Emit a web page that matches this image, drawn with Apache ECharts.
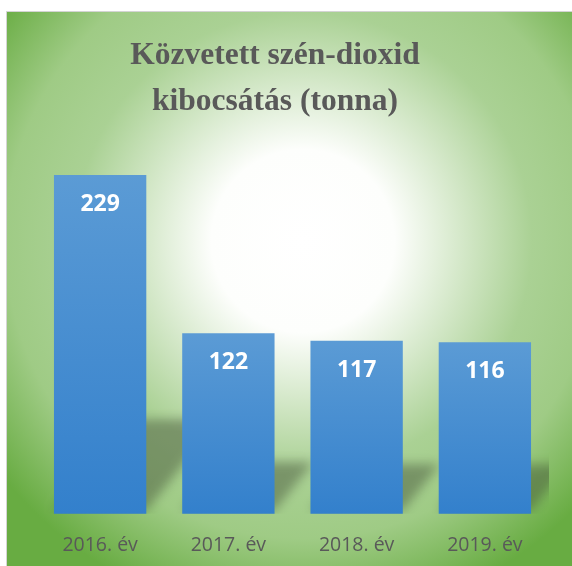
<!DOCTYPE html>
<html><head><meta charset="utf-8">
<script src="https://cdn.jsdelivr.net/npm/echarts@6/dist/echarts.min.js"></script>
<style>html,body{margin:0;padding:0;background:#fff}#c{width:572px;height:566px}</style>
</head><body><div id="c"></div>
<script>
const titleText = 'Közvetett szén-dioxid\nkibocsátás (tonna)';
const categories = ['2016. év', '2017. év', '2018. év', '2019. év'];
const values = [229, 122, 117, 116];

const BAR_RATIO = 0.72;
const OFF = 1500;
const chart = echarts.init(document.getElementById('c'), null, {renderer: 'canvas'});
chart.setOption({
  backgroundColor: '#ffffff',
  animation: false,
  graphic: [
    {
      type: 'rect', z: -10, silent: true,
      shape: {x: 6.5, y: 11.5, width: 570, height: 560},
      style: {
        fill: new echarts.graphic.RadialGradient(0.52, 0.41, 0.68, [
          {offset: 0, color: '#ffffff'},
          {offset: 0.24, color: '#fdfefc'},
          {offset: 0.6, color: '#aad194'},
          {offset: 0.78, color: '#9fcb85'},
          {offset: 1, color: '#68ac42'}
        ]),
        stroke: '#d4d4d4', lineWidth: 1
      }
    }
  ],
  title: {
    text: titleText,
    left: 270, top: 28, textAlign: 'center',
    textStyle: {fontFamily: 'Liberation Serif', fontWeight: 'bold', fontSize: 31.5, lineHeight: 46, color: '#595959'}
  },
  grid: {left: 36, right: 23, top: 144, bottom: 52.3},
  xAxis: {
    type: 'category', data: categories,
    axisLine: {show: false}, axisTick: {show: false},
    axisLabel: {margin: 22, fontFamily: 'Open Sans', fontSize: 19.5, color: '#595959'}
  },
  yAxis: {type: 'value', min: 0, max: 250, show: false, splitLine: {show: false}},
  series: [
    {
      type: 'custom', z: 1, clip: true, silent: true,
      data: values.map((v, i) => [i, v]),
      renderItem: function (params, api) {
        const i = api.value(0), v = api.value(1);
        const top = api.coord([i, v]);
        const base = api.coord([i, 0]);
        const w = api.size([1, 0])[0] * BAR_RATIO;
        const x0 = base[0] - w / 2, x1 = base[0] + w / 2, yb = base[1] - 3;
        const hs = (base[1] - top[1]) * 0.27;
        const dx = hs * 0.8;
        return {
          type: 'polygon',
          shape: {points: [[x0, yb - OFF], [x1, yb - OFF], [x1 + dx, yb - hs - OFF], [x0 + dx, yb - hs - OFF]]},
          style: {fill: '#000', shadowBlur: 11, shadowOffsetX: 0, shadowOffsetY: OFF, shadowColor: 'rgba(55,65,45,0.42)'}
        };
      }
    },
    {
      type: 'bar', data: values, barWidth: (BAR_RATIO * 100) + '%', z: 2,
      itemStyle: {color: new echarts.graphic.LinearGradient(0, 0, 0, 1, [
        {offset: 0, color: '#5b9bd5'}, {offset: 1, color: '#3380cc'}
      ])},
      label: {show: true, position: 'insideTop', distance: 18, color: '#ffffff',
        fontFamily: 'Open Sans', fontWeight: 'bold', fontSize: 23}
    }
  ]
});
</script></body></html>
